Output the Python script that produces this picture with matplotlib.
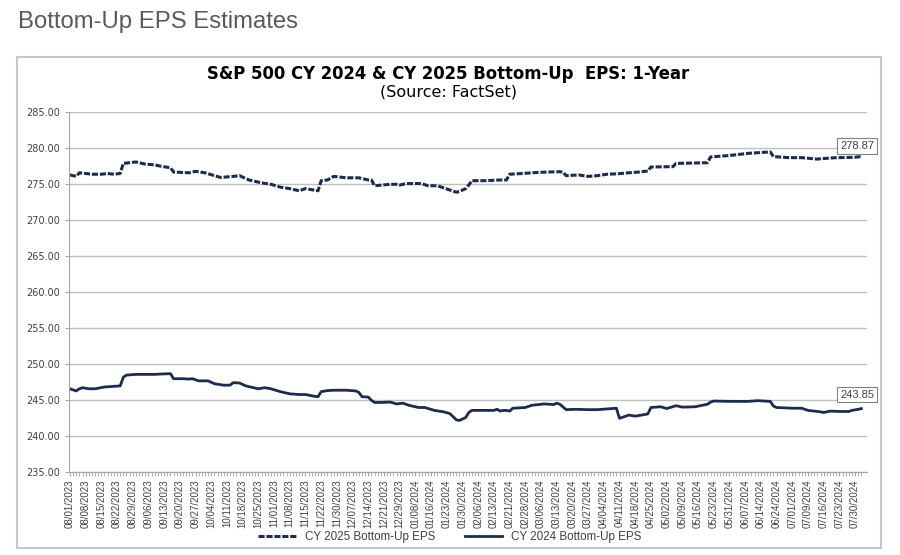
import pandas as pd
import matplotlib.pyplot as plt
from matplotlib.patches import Rectangle

# NYSE holidays inside the window (the x axis is a trading-day category axis)
holidays = ['2023-09-04', '2023-11-23', '2023-12-25', '2024-01-01', '2024-01-15',
            '2024-02-19', '2024-03-29', '2024-05-27', '2024-06-19', '2024-07-04']

# CY 2025 bottom-up EPS
cy2025_dates = ['08/01/2023', '08/03/2023', '08/04/2023', '08/10/2023', '08/15/2023',
                '08/17/2023', '08/21/2023', '08/23/2023', '08/24/2023', '08/30/2023',
                '09/05/2023', '09/08/2023', '09/12/2023', '09/15/2023', '09/18/2023',
                '09/25/2023', '09/27/2023', '10/02/2023', '10/05/2023', '10/09/2023',
                '10/13/2023', '10/17/2023', '10/20/2023', '10/26/2023', '10/31/2023',
                '11/03/2023', '11/08/2023', '11/13/2023', '11/15/2023', '11/21/2023',
                '11/22/2023', '11/27/2023', '11/29/2023', '12/05/2023', '12/11/2023',
                '12/14/2023', '12/15/2023', '12/18/2023', '12/26/2023', '12/28/2023',
                '12/29/2023', '01/03/2024', '01/10/2024', '01/12/2024', '01/18/2024',
                '01/24/2024', '01/26/2024', '01/29/2024', '01/31/2024', '02/01/2024',
                '02/02/2024', '02/08/2024', '02/15/2024', '02/20/2024', '02/21/2024',
                '02/27/2024', '03/05/2024', '03/08/2024', '03/14/2024', '03/15/2024',
                '03/18/2024', '03/22/2024', '03/27/2024', '04/02/2024', '04/05/2024',
                '04/10/2024', '04/16/2024', '04/19/2024', '04/24/2024', '04/25/2024',
                '05/03/2024', '05/06/2024', '05/07/2024', '05/21/2024', '05/22/2024',
                '05/31/2024', '06/10/2024', '06/20/2024', '06/21/2024', '06/28/2024',
                '07/05/2024', '07/12/2024', '07/15/2024', '07/22/2024', '07/30/2024',
                '08/01/2024']
cy2025_eps = [276.30, 276.10, 276.60, 276.40, 276.40,
              276.50, 276.40, 276.50, 277.90, 278.10,
              277.80, 277.70, 277.50, 277.30, 276.70,
              276.60, 276.80, 276.60, 276.20, 275.95,
              276.10, 276.20, 275.60, 275.20, 275.00,
              274.60, 274.40, 274.10, 274.40, 274.10,
              275.50, 275.60, 276.10, 275.90, 275.90,
              275.60, 275.60, 274.80, 275.00, 275.00,
              274.90, 275.10, 275.10, 274.80, 274.80,
              274.20, 273.90, 274.00, 274.40, 274.90,
              275.50, 275.50, 275.60, 275.60, 276.40,
              276.50, 276.65, 276.70, 276.75, 276.70,
              276.20, 276.30, 276.10, 276.20, 276.40,
              276.45, 276.60, 276.70, 276.85, 277.40,
              277.45, 277.45, 277.90, 278.00, 278.80,
              279.00, 279.30, 279.50, 278.85, 278.70,
              278.70, 278.50, 278.55, 278.70, 278.75,
              278.87]

# CY 2024 bottom-up EPS
cy2024_dates = ['08/01/2023', '08/03/2023', '08/04/2023', '08/07/2023', '08/09/2023',
                '08/11/2023', '08/16/2023', '08/23/2023', '08/24/2023', '08/25/2023',
                '08/30/2023', '09/08/2023', '09/12/2023', '09/15/2023', '09/18/2023',
                '09/21/2023', '09/25/2023', '09/26/2023', '09/28/2023', '10/03/2023',
                '10/05/2023', '10/10/2023', '10/12/2023', '10/13/2023', '10/17/2023',
                '10/19/2023', '10/25/2023', '10/27/2023', '10/31/2023', '11/03/2023',
                '11/08/2023', '11/13/2023', '11/15/2023', '11/20/2023', '11/21/2023',
                '11/22/2023', '11/27/2023', '11/29/2023', '12/05/2023', '12/08/2023',
                '12/11/2023', '12/12/2023', '12/14/2023', '12/15/2023', '12/18/2023',
                '12/20/2023', '12/26/2023', '12/28/2023', '01/02/2024', '01/04/2024',
                '01/09/2024', '01/11/2024', '01/17/2024', '01/22/2024', '01/24/2024',
                '01/26/2024', '01/29/2024', '01/31/2024', '02/01/2024', '02/02/2024',
                '02/13/2024', '02/14/2024', '02/15/2024', '02/16/2024', '02/20/2024',
                '02/21/2024', '02/22/2024', '02/28/2024', '03/01/2024', '03/07/2024',
                '03/12/2024', '03/13/2024', '03/14/2024', '03/18/2024', '03/21/2024',
                '03/27/2024', '04/02/2024', '04/10/2024', '04/11/2024', '04/16/2024',
                '04/18/2024', '04/24/2024', '04/25/2024', '04/30/2024', '05/01/2024',
                '05/02/2024', '05/07/2024', '05/09/2024', '05/15/2024', '05/21/2024',
                '05/22/2024', '05/23/2024', '05/31/2024', '06/10/2024', '06/13/2024',
                '06/20/2024', '06/21/2024', '06/24/2024', '07/01/2024', '07/05/2024',
                '07/09/2024', '07/15/2024', '07/16/2024', '07/18/2024', '07/23/2024',
                '07/26/2024', '07/29/2024', '07/31/2024', '08/01/2024']
cy2024_eps = [246.60, 246.30, 246.60, 246.75, 246.60,
              246.60, 246.85, 247.00, 248.20, 248.50,
              248.60, 248.60, 248.65, 248.70, 248.00,
              248.00, 247.95, 248.00, 247.70, 247.70,
              247.30, 247.10, 247.10, 247.45, 247.40,
              247.00, 246.60, 246.75, 246.60, 246.20,
              245.90, 245.80, 245.80, 245.55, 245.50,
              246.20, 246.35, 246.40, 246.40, 246.30,
              246.10, 245.50, 245.45, 245.00, 244.70,
              244.70, 244.75, 244.50, 244.60, 244.30,
              244.00, 244.00, 243.60, 243.40, 243.15,
              242.30, 242.20, 242.60, 243.30, 243.60,
              243.60, 243.75, 243.50, 243.60, 243.60,
              243.50, 243.90, 244.00, 244.30, 244.50,
              244.40, 244.60, 244.45, 243.70, 243.75,
              243.70, 243.70, 243.90, 242.50, 242.95,
              242.80, 243.10, 244.00, 244.10, 244.00,
              243.85, 244.25, 244.05, 244.10, 244.45,
              244.75, 244.90, 244.85, 244.85, 244.95,
              244.85, 244.20, 244.00, 243.90, 243.90,
              243.60, 243.40, 243.30, 243.50, 243.45,
              243.45, 243.60, 243.75, 243.85]

line_color = '#1d2b4c'
text_color = '#404040'
grid_color = '#bfbfbf'

plt.rcParams['font.family'] = ['Liberation Sans', 'DejaVu Sans']
wide_font = ['DejaVu Sans']  # the chart image is stretched sideways, wider face fits better

trading_days = pd.bdate_range('2023-08-01', '2024-08-01', freq='C', holidays=holidays)
day_pos = pd.Series(range(len(trading_days)), index=trading_days)

x25 = day_pos[pd.to_datetime(cy2025_dates, format='%m/%d/%Y')].values
x24 = day_pos[pd.to_datetime(cy2024_dates, format='%m/%d/%Y')].values

fig = plt.figure(figsize=(9, 5.55), dpi=100)
W, H = 900, 555

# page heading and chart frame
fig.text(18 / W, 1 - 22 / H, 'Bottom-Up EPS Estimates', fontsize=17.2,
         color='#595959', va='center', ha='left')
fig.patches.append(Rectangle((17 / W, 1 - 548 / H), (881 - 17) / W, (548 - 57) / H,
                             transform=fig.transFigure, fill=False,
                             edgecolor='#c8c8c8', linewidth=1.5))
fig.text(448.5 / W, 1 - 74 / H, 'S&P 500 CY 2024 & CY 2025 Bottom-Up  EPS: 1-Year',
         fontsize=11.9, fontweight='bold', family=wide_font, color='black',
         ha='center', va='center')
fig.text(448.5 / W, 1 - 92 / H, '(Source: FactSet)', fontsize=11.5, family=wide_font,
         color='black', ha='center', va='center')

ax = fig.add_axes([69 / W, 1 - 472.3 / H, (867 - 69) / W, 360 / H])

ax.plot(x25, cy2025_eps, color=line_color, linewidth=2.2,
        linestyle=(0, (2.0, 0.6)), label='CY 2025 Bottom-Up EPS')
ax.plot(x24, cy2024_eps, color=line_color, linewidth=2.0,
        label='CY 2024 Bottom-Up EPS')

# end-point value boxes
box = dict(boxstyle='square,pad=0.25', facecolor='white', edgecolor='#808080', linewidth=0.8)
ax.annotate(f'{cy2025_eps[-1]:.2f}', (x25[-1], cy2025_eps[-1]), xytext=(-3, 7.5),
            textcoords='offset points', ha='center', va='center', fontsize=8,
            color=text_color, bbox=box, annotation_clip=False)
ax.annotate(f'{cy2024_eps[-1]:.2f}', (x24[-1], cy2024_eps[-1]), xytext=(-3, 10),
            textcoords='offset points', ha='center', va='center', fontsize=8,
            color=text_color, bbox=box, annotation_clip=False)

ax.set_ylim(235, 285)
ax.set_yticks(range(235, 286, 5))
ax.set_yticklabels([f'{v:.2f}' for v in range(235, 286, 5)], family=wide_font)
ax.set_xlim(-0.3, 253.8)

label_idx = list(range(0, len(trading_days), 5))
ax.set_xticks(label_idx)
ax.set_xticklabels([trading_days[i].strftime('%m/%d/%Y') for i in label_idx], rotation=90)
ax.set_xticks(range(len(trading_days)), minor=True)

ax.grid(axis='y', color=grid_color, linewidth=1.0)
ax.set_axisbelow(True)
for side in ['top', 'right']:
    ax.spines[side].set_visible(False)
for side in ['left', 'bottom']:
    ax.spines[side].set_color('#a6a6a6')
ax.tick_params(axis='y', labelsize=7, colors=text_color, length=3, color='#a6a6a6')
ax.tick_params(axis='x', which='both', labelsize=7, labelcolor=text_color,
               length=3, color='#a6a6a6', pad=2)

fig.legend(loc='center', bbox_to_anchor=(450 / W, 1 - 537 / H), ncol=2, frameon=False,
           fontsize=8.4, handlelength=3.2, columnspacing=2.5, labelcolor=text_color)

fig.savefig('out.png', dpi=100, facecolor='white')
